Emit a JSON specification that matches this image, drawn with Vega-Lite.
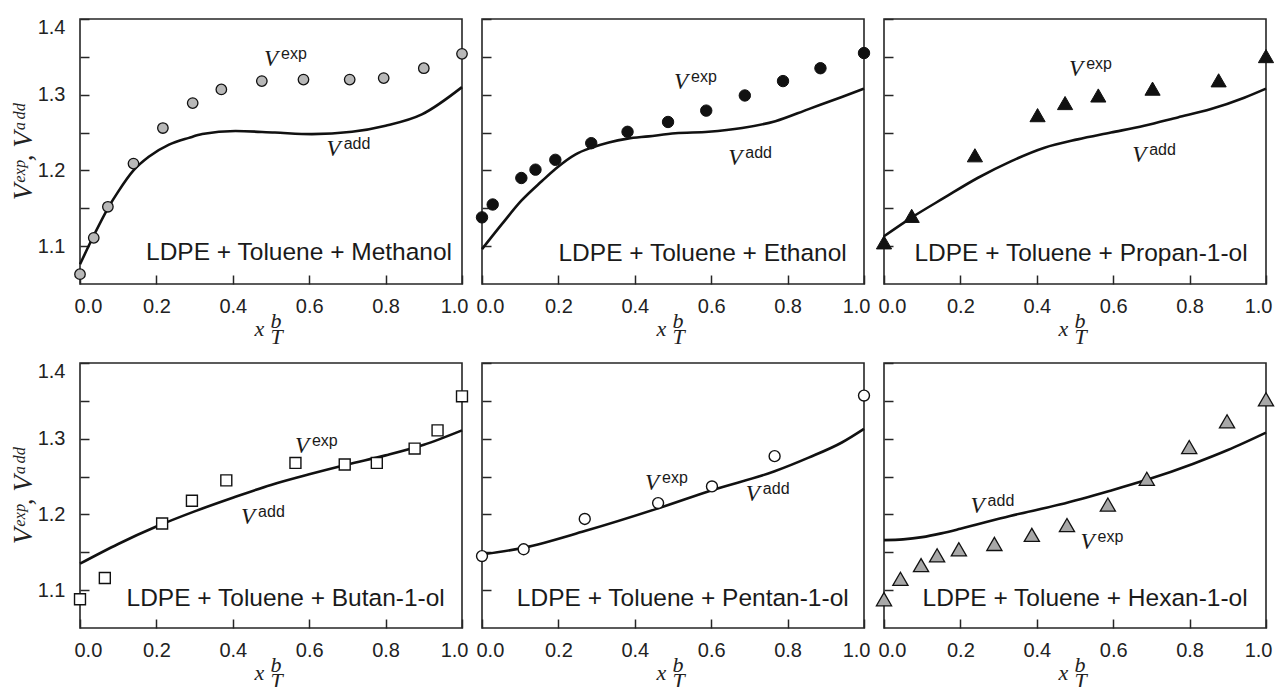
{
  "$schema": "https://vega.github.io/schema/vega-lite/v6.json",
  "padding": {"left": 8, "top": 16, "right": 5, "bottom": 0},
  "bounds": "flush",
  "columns": 3,
  "spacing": {"row": 79, "column": 20},
  "datasets": {
    "pts": [
      {"p":1,"x":0,"v":1.063},{"p":1,"x":0.036,"v":1.111},{"p":1,"x":0.073,"v":1.152},{"p":1,"x":0.14,"v":1.209},{"p":1,"x":0.217,"v":1.256},{"p":1,"x":0.295,"v":1.289},{"p":1,"x":0.37,"v":1.307},{"p":1,"x":0.476,"v":1.318},{"p":1,"x":0.585,"v":1.32},{"p":1,"x":0.706,"v":1.32},{"p":1,"x":0.795,"v":1.322},{"p":1,"x":0.9,"v":1.335},{"p":1,"x":1.0,"v":1.354},
      {"p":2,"x":0,"v":1.138},{"p":2,"x":0.028,"v":1.155},{"p":2,"x":0.103,"v":1.19},{"p":2,"x":0.14,"v":1.201},{"p":2,"x":0.192,"v":1.214},{"p":2,"x":0.286,"v":1.236},{"p":2,"x":0.381,"v":1.251},{"p":2,"x":0.487,"v":1.264},{"p":2,"x":0.587,"v":1.279},{"p":2,"x":0.688,"v":1.299},{"p":2,"x":0.788,"v":1.318},{"p":2,"x":0.886,"v":1.335},{"p":2,"x":1.0,"v":1.355},
      {"p":3,"x":0,"v":1.105},{"p":3,"x":0.0725,"v":1.14},{"p":3,"x":0.238,"v":1.22},{"p":3,"x":0.402,"v":1.273},{"p":3,"x":0.474,"v":1.289},{"p":3,"x":0.561,"v":1.299},{"p":3,"x":0.703,"v":1.308},{"p":3,"x":0.876,"v":1.319},{"p":3,"x":1.0,"v":1.351},
      {"p":4,"x":0,"v":1.088},{"p":4,"x":0.065,"v":1.116},{"p":4,"x":0.215,"v":1.188},{"p":4,"x":0.293,"v":1.218},{"p":4,"x":0.383,"v":1.245},{"p":4,"x":0.564,"v":1.268},{"p":4,"x":0.693,"v":1.266},{"p":4,"x":0.777,"v":1.268},{"p":4,"x":0.876,"v":1.287},{"p":4,"x":0.936,"v":1.311},{"p":4,"x":1.0,"v":1.356},
      {"p":5,"x":0,"v":1.145},{"p":5,"x":0.109,"v":1.154},{"p":5,"x":0.269,"v":1.194},{"p":5,"x":0.461,"v":1.215},{"p":5,"x":0.602,"v":1.237},{"p":5,"x":0.766,"v":1.277},{"p":5,"x":1.0,"v":1.357},
      {"p":6,"x":0,"v":1.088},{"p":6,"x":0.043,"v":1.115},{"p":6,"x":0.097,"v":1.133},{"p":6,"x":0.139,"v":1.146},{"p":6,"x":0.196,"v":1.154},{"p":6,"x":0.289,"v":1.161},{"p":6,"x":0.387,"v":1.173},{"p":6,"x":0.479,"v":1.186},{"p":6,"x":0.586,"v":1.213},{"p":6,"x":0.688,"v":1.247},{"p":6,"x":0.799,"v":1.289},{"p":6,"x":0.898,"v":1.323},{"p":6,"x":1.0,"v":1.352}
    ],
    "lines": [
      {"p":1,"x":0,"v":1.076},{"p":1,"x":0.036,"v":1.114},{"p":1,"x":0.073,"v":1.15},{"p":1,"x":0.1,"v":1.172},{"p":1,"x":0.14,"v":1.2},{"p":1,"x":0.18,"v":1.218},{"p":1,"x":0.233,"v":1.234},{"p":1,"x":0.285,"v":1.243},{"p":1,"x":0.32,"v":1.248},{"p":1,"x":0.407,"v":1.252},{"p":1,"x":0.51,"v":1.25},{"p":1,"x":0.607,"v":1.248},{"p":1,"x":0.712,"v":1.251},{"p":1,"x":0.8,"v":1.259},{"p":1,"x":0.895,"v":1.274},{"p":1,"x":1.0,"v":1.31},
      {"p":2,"x":0,"v":1.096},{"p":2,"x":0.052,"v":1.129},{"p":2,"x":0.103,"v":1.16},{"p":2,"x":0.157,"v":1.186},{"p":2,"x":0.192,"v":1.202},{"p":2,"x":0.244,"v":1.221},{"p":2,"x":0.286,"v":1.23},{"p":2,"x":0.332,"v":1.237},{"p":2,"x":0.381,"v":1.242},{"p":2,"x":0.436,"v":1.245},{"p":2,"x":0.506,"v":1.249},{"p":2,"x":0.593,"v":1.251},{"p":2,"x":0.681,"v":1.256},{"p":2,"x":0.768,"v":1.265},{"p":2,"x":0.855,"v":1.281},{"p":2,"x":0.942,"v":1.297},{"p":2,"x":1.0,"v":1.308},
      {"p":3,"x":0,"v":1.113},{"p":3,"x":0.073,"v":1.138},{"p":3,"x":0.158,"v":1.164},{"p":3,"x":0.245,"v":1.19},{"p":3,"x":0.332,"v":1.212},{"p":3,"x":0.42,"v":1.23},{"p":3,"x":0.507,"v":1.241},{"p":3,"x":0.594,"v":1.25},{"p":3,"x":0.681,"v":1.259},{"p":3,"x":0.769,"v":1.27},{"p":3,"x":0.856,"v":1.281},{"p":3,"x":0.943,"v":1.296},{"p":3,"x":1.0,"v":1.308},
      {"p":4,"x":0,"v":1.135},{"p":4,"x":0.1,"v":1.161},{"p":4,"x":0.2,"v":1.184},{"p":4,"x":0.3,"v":1.204},{"p":4,"x":0.4,"v":1.222},{"p":4,"x":0.5,"v":1.239},{"p":4,"x":0.6,"v":1.253},{"p":4,"x":0.7,"v":1.266},{"p":4,"x":0.8,"v":1.278},{"p":4,"x":0.9,"v":1.292},{"p":4,"x":1.0,"v":1.311},
      {"p":5,"x":0,"v":1.147},{"p":5,"x":0.109,"v":1.156},{"p":5,"x":0.269,"v":1.178},{"p":5,"x":0.461,"v":1.208},{"p":5,"x":0.602,"v":1.232},{"p":5,"x":0.766,"v":1.257},{"p":5,"x":0.855,"v":1.275},{"p":5,"x":0.942,"v":1.295},{"p":5,"x":1.0,"v":1.313},
      {"p":6,"x":0,"v":1.166},{"p":6,"x":0.05,"v":1.167},{"p":6,"x":0.1,"v":1.17},{"p":6,"x":0.15,"v":1.175},{"p":6,"x":0.2,"v":1.181},{"p":6,"x":0.33,"v":1.198},{"p":6,"x":0.46,"v":1.213},{"p":6,"x":0.59,"v":1.231},{"p":6,"x":0.69,"v":1.246},{"p":6,"x":0.81,"v":1.267},{"p":6,"x":0.9,"v":1.285},{"p":6,"x":1.0,"v":1.308}
    ],
    "ann": [
      {"p":1,"x":0.5,"v":1.347,"t":"V","s":"exp"},{"p":1,"x":0.664,"v":1.228,"t":"V","s":"add"},
      {"p":2,"x":0.521,"v":1.317,"t":"V","s":"exp"},{"p":2,"x":0.663,"v":1.217,"t":"V","s":"add"},
      {"p":3,"x":0.503,"v":1.334,"t":"V","s":"exp"},{"p":3,"x":0.668,"v":1.221,"t":"V","s":"add"},
      {"p":4,"x":0.581,"v":1.29,"t":"V","s":"exp"},{"p":4,"x":0.44,"v":1.197,"t":"V","s":"add"},
      {"p":5,"x":0.445,"v":1.242,"t":"V","s":"exp"},{"p":5,"x":0.709,"v":1.227,"t":"V","s":"add"},
      {"p":6,"x":0.533,"v":1.164,"t":"V","s":"exp"},{"p":6,"x":0.245,"v":1.211,"t":"V","s":"add"}
    ],
    "names": [
      {"p":1,"x":0.974,"v":1.091,"name":"LDPE + Toluene + Methanol"},
      {"p":2,"x":0.955,"v":1.09,"name":"LDPE + Toluene + Ethanol"},
      {"p":3,"x":0.952,"v":1.09,"name":"LDPE + Toluene + Propan-1-ol"},
      {"p":4,"x":0.955,"v":1.088,"name":"LDPE + Toluene + Butan-1-ol"},
      {"p":5,"x":0.96,"v":1.088,"name":"LDPE + Toluene + Pentan-1-ol"},
      {"p":6,"x":0.952,"v":1.088,"name":"LDPE + Toluene + Hexan-1-ol"}
    ]
  },
  "concat": [
    {
      "width": 382, "height": 265,
      "encoding": {
        "x": {"field": "x", "type": "quantitative", "scale": {"domain": [0, 1], "nice": false}, "axis": {"values": [0, 0.2, 0.4, 0.6, 0.8, 1], "format": ".1f", "title": ["\u2800b", "x", "\u2800T"]}},
        "y": {"field": "v", "type": "quantitative", "scale": {"domain": [1.05, 1.4], "nice": false, "zero": false}, "axis": {"values": [1.1, 1.15, 1.2, 1.25, 1.3, 1.35, 1.4], "labelExpr": "abs(round(datum.value*20)) % 2 == 0 ? format(datum.value, '.1f') : ''", "title": "V\u1d49\u02e3\u1d56, V\u1d43\u1d48\u1d48"}}
      },
      "layer": [
        {"data": {"name": "lines"}, "transform": [{"filter": "datum.p == 1"}], "mark": {"type": "line", "color": "#111111", "strokeWidth": 2.6, "interpolate": "monotone"}},
        {"data": {"name": "pts"}, "transform": [{"filter": "datum.p == 1"}], "mark": {"type": "point", "shape": "circle", "filled": true, "fill": "#b8b8b8", "stroke": "#111111", "strokeWidth": 1.3, "size": 110, "opacity": 1}},
        {"data": {"name": "ann"}, "transform": [{"filter": "datum.p == 1"}], "mark": {"type": "text", "font": "Liberation Serif", "fontStyle": "italic", "fontSize": 23, "align": "center", "baseline": "middle", "color": "#1a1a1a"}, "encoding": {"text": {"field": "t"}}},
        {"data": {"name": "ann"}, "transform": [{"filter": "datum.p == 1"}], "mark": {"type": "text", "font": "Liberation Sans", "fontSize": 16, "align": "left", "baseline": "middle", "dx": 10, "dy": -5, "color": "#1a1a1a"}, "encoding": {"text": {"field": "s"}}},
        {"data": {"name": "names"}, "transform": [{"filter": "datum.p == 1"}], "mark": {"type": "text", "font": "Liberation Sans", "fontSize": 24.5, "align": "right", "baseline": "middle", "color": "#1a1a1a"}, "encoding": {"text": {"field": "name"}}}
      ]
    },
    {
      "width": 382, "height": 265,
      "encoding": {
        "x": {"field": "x", "type": "quantitative", "scale": {"domain": [0, 1], "nice": false}, "axis": {"values": [0, 0.2, 0.4, 0.6, 0.8, 1], "format": ".1f", "title": ["\u2800b", "x", "\u2800T"]}},
        "y": {"field": "v", "type": "quantitative", "scale": {"domain": [1.05, 1.4], "nice": false, "zero": false}, "axis": {"values": [1.1, 1.15, 1.2, 1.25, 1.3, 1.35, 1.4], "labels": false, "title": null}}
      },
      "layer": [
        {"data": {"name": "lines"}, "transform": [{"filter": "datum.p == 2"}], "mark": {"type": "line", "color": "#111111", "strokeWidth": 2.6, "interpolate": "monotone"}},
        {"data": {"name": "pts"}, "transform": [{"filter": "datum.p == 2"}], "mark": {"type": "point", "shape": "circle", "filled": true, "fill": "#111111", "stroke": "#111111", "strokeWidth": 1, "size": 130, "opacity": 1}},
        {"data": {"name": "ann"}, "transform": [{"filter": "datum.p == 2"}], "mark": {"type": "text", "font": "Liberation Serif", "fontStyle": "italic", "fontSize": 23, "align": "center", "baseline": "middle", "color": "#1a1a1a"}, "encoding": {"text": {"field": "t"}}},
        {"data": {"name": "ann"}, "transform": [{"filter": "datum.p == 2"}], "mark": {"type": "text", "font": "Liberation Sans", "fontSize": 16, "align": "left", "baseline": "middle", "dx": 10, "dy": -5, "color": "#1a1a1a"}, "encoding": {"text": {"field": "s"}}},
        {"data": {"name": "names"}, "transform": [{"filter": "datum.p == 2"}], "mark": {"type": "text", "font": "Liberation Sans", "fontSize": 24.5, "align": "right", "baseline": "middle", "color": "#1a1a1a"}, "encoding": {"text": {"field": "name"}}}
      ]
    },
    {
      "width": 382, "height": 265,
      "encoding": {
        "x": {"field": "x", "type": "quantitative", "scale": {"domain": [0, 1], "nice": false}, "axis": {"values": [0, 0.2, 0.4, 0.6, 0.8, 1], "format": ".1f", "title": ["\u2800b", "x", "\u2800T"]}},
        "y": {"field": "v", "type": "quantitative", "scale": {"domain": [1.05, 1.4], "nice": false, "zero": false}, "axis": {"values": [1.1, 1.15, 1.2, 1.25, 1.3, 1.35, 1.4], "labels": false, "title": null}}
      },
      "layer": [
        {"data": {"name": "lines"}, "transform": [{"filter": "datum.p == 3"}], "mark": {"type": "line", "color": "#111111", "strokeWidth": 2.6, "interpolate": "monotone"}},
        {"data": {"name": "pts"}, "transform": [{"filter": "datum.p == 3"}], "mark": {"type": "point", "shape": "triangle-up", "filled": true, "fill": "#111111", "stroke": "#111111", "strokeWidth": 1, "size": 230, "opacity": 1}},
        {"data": {"name": "ann"}, "transform": [{"filter": "datum.p == 3"}], "mark": {"type": "text", "font": "Liberation Serif", "fontStyle": "italic", "fontSize": 23, "align": "center", "baseline": "middle", "color": "#1a1a1a"}, "encoding": {"text": {"field": "t"}}},
        {"data": {"name": "ann"}, "transform": [{"filter": "datum.p == 3"}], "mark": {"type": "text", "font": "Liberation Sans", "fontSize": 16, "align": "left", "baseline": "middle", "dx": 10, "dy": -5, "color": "#1a1a1a"}, "encoding": {"text": {"field": "s"}}},
        {"data": {"name": "names"}, "transform": [{"filter": "datum.p == 3"}], "mark": {"type": "text", "font": "Liberation Sans", "fontSize": 24.5, "align": "right", "baseline": "middle", "color": "#1a1a1a"}, "encoding": {"text": {"field": "name"}}}
      ]
    },
    {
      "width": 382, "height": 265,
      "encoding": {
        "x": {"field": "x", "type": "quantitative", "scale": {"domain": [0, 1], "nice": false}, "axis": {"values": [0, 0.2, 0.4, 0.6, 0.8, 1], "format": ".1f", "title": ["\u2800b", "x", "\u2800T"]}},
        "y": {"field": "v", "type": "quantitative", "scale": {"domain": [1.05, 1.4], "nice": false, "zero": false}, "axis": {"values": [1.1, 1.15, 1.2, 1.25, 1.3, 1.35, 1.4], "labelExpr": "abs(round(datum.value*20)) % 2 == 0 ? format(datum.value, '.1f') : ''", "title": "V\u1d49\u02e3\u1d56, V\u1d43\u1d48\u1d48"}}
      },
      "layer": [
        {"data": {"name": "lines"}, "transform": [{"filter": "datum.p == 4"}], "mark": {"type": "line", "color": "#111111", "strokeWidth": 2.6, "interpolate": "monotone"}},
        {"data": {"name": "pts"}, "transform": [{"filter": "datum.p == 4"}], "mark": {"type": "point", "shape": "square", "filled": true, "fill": "#ffffff", "stroke": "#111111", "strokeWidth": 1.4, "size": 120, "opacity": 1}},
        {"data": {"name": "ann"}, "transform": [{"filter": "datum.p == 4"}], "mark": {"type": "text", "font": "Liberation Serif", "fontStyle": "italic", "fontSize": 23, "align": "center", "baseline": "middle", "color": "#1a1a1a"}, "encoding": {"text": {"field": "t"}}},
        {"data": {"name": "ann"}, "transform": [{"filter": "datum.p == 4"}], "mark": {"type": "text", "font": "Liberation Sans", "fontSize": 16, "align": "left", "baseline": "middle", "dx": 10, "dy": -5, "color": "#1a1a1a"}, "encoding": {"text": {"field": "s"}}},
        {"data": {"name": "names"}, "transform": [{"filter": "datum.p == 4"}], "mark": {"type": "text", "font": "Liberation Sans", "fontSize": 24.5, "align": "right", "baseline": "middle", "color": "#1a1a1a"}, "encoding": {"text": {"field": "name"}}}
      ]
    },
    {
      "width": 382, "height": 265,
      "encoding": {
        "x": {"field": "x", "type": "quantitative", "scale": {"domain": [0, 1], "nice": false}, "axis": {"values": [0, 0.2, 0.4, 0.6, 0.8, 1], "format": ".1f", "title": ["\u2800b", "x", "\u2800T"]}},
        "y": {"field": "v", "type": "quantitative", "scale": {"domain": [1.05, 1.4], "nice": false, "zero": false}, "axis": {"values": [1.1, 1.15, 1.2, 1.25, 1.3, 1.35, 1.4], "labels": false, "title": null}}
      },
      "layer": [
        {"data": {"name": "lines"}, "transform": [{"filter": "datum.p == 5"}], "mark": {"type": "line", "color": "#111111", "strokeWidth": 2.6, "interpolate": "monotone"}},
        {"data": {"name": "pts"}, "transform": [{"filter": "datum.p == 5"}], "mark": {"type": "point", "shape": "circle", "filled": true, "fill": "#ffffff", "stroke": "#111111", "strokeWidth": 1.4, "size": 120, "opacity": 1}},
        {"data": {"name": "ann"}, "transform": [{"filter": "datum.p == 5"}], "mark": {"type": "text", "font": "Liberation Serif", "fontStyle": "italic", "fontSize": 23, "align": "center", "baseline": "middle", "color": "#1a1a1a"}, "encoding": {"text": {"field": "t"}}},
        {"data": {"name": "ann"}, "transform": [{"filter": "datum.p == 5"}], "mark": {"type": "text", "font": "Liberation Sans", "fontSize": 16, "align": "left", "baseline": "middle", "dx": 10, "dy": -5, "color": "#1a1a1a"}, "encoding": {"text": {"field": "s"}}},
        {"data": {"name": "names"}, "transform": [{"filter": "datum.p == 5"}], "mark": {"type": "text", "font": "Liberation Sans", "fontSize": 24.5, "align": "right", "baseline": "middle", "color": "#1a1a1a"}, "encoding": {"text": {"field": "name"}}}
      ]
    },
    {
      "width": 382, "height": 265,
      "encoding": {
        "x": {"field": "x", "type": "quantitative", "scale": {"domain": [0, 1], "nice": false}, "axis": {"values": [0, 0.2, 0.4, 0.6, 0.8, 1], "format": ".1f", "title": ["\u2800b", "x", "\u2800T"]}},
        "y": {"field": "v", "type": "quantitative", "scale": {"domain": [1.05, 1.4], "nice": false, "zero": false}, "axis": {"values": [1.1, 1.15, 1.2, 1.25, 1.3, 1.35, 1.4], "labels": false, "title": null}}
      },
      "layer": [
        {"data": {"name": "lines"}, "transform": [{"filter": "datum.p == 6"}], "mark": {"type": "line", "color": "#111111", "strokeWidth": 2.6, "interpolate": "monotone"}},
        {"data": {"name": "pts"}, "transform": [{"filter": "datum.p == 6"}], "mark": {"type": "point", "shape": "triangle-up", "filled": true, "fill": "#a8a8a8", "stroke": "#111111", "strokeWidth": 1.3, "size": 230, "opacity": 1}},
        {"data": {"name": "ann"}, "transform": [{"filter": "datum.p == 6"}], "mark": {"type": "text", "font": "Liberation Serif", "fontStyle": "italic", "fontSize": 23, "align": "center", "baseline": "middle", "color": "#1a1a1a"}, "encoding": {"text": {"field": "t"}}},
        {"data": {"name": "ann"}, "transform": [{"filter": "datum.p == 6"}], "mark": {"type": "text", "font": "Liberation Sans", "fontSize": 16, "align": "left", "baseline": "middle", "dx": 10, "dy": -5, "color": "#1a1a1a"}, "encoding": {"text": {"field": "s"}}},
        {"data": {"name": "names"}, "transform": [{"filter": "datum.p == 6"}], "mark": {"type": "text", "font": "Liberation Sans", "fontSize": 24.5, "align": "right", "baseline": "middle", "color": "#1a1a1a"}, "encoding": {"text": {"field": "name"}}}
      ]
    }
  ],
  "config": {
    "background": "white",
    "view": {"stroke": "#262626", "strokeWidth": 1.6},
    "axis": {
      "grid": false,
      "domain": false,
      "tickSize": -9,
      "tickWidth": 1.5,
      "tickColor": "#262626",
      "labelFont": "Liberation Sans",
      "labelFontSize": 20,
      "labelColor": "#222222",
      "labelPadding": 24,
      "labelFlush": true,
      "labelFlushOffset": 6,
      "titleColor": "#222222",
      "titleFontWeight": "normal"
    },
    "axisX": {
      "labelPadding": 21,
      "titleFont": "Liberation Serif",
      "titleFontStyle": "italic",
      "titleFontSize": 22,
      "titleLineHeight": 8,
      "titleAlign": "left",
      "titleX": 174,
      "titlePadding": -6
    },
    "axisY": {
      "titleFont": "Liberation Serif",
      "titleFontStyle": "italic",
      "titleFontSize": 27,
      "titlePadding": 0,
      "labelFlushOffset": 2
    }
  }
}
